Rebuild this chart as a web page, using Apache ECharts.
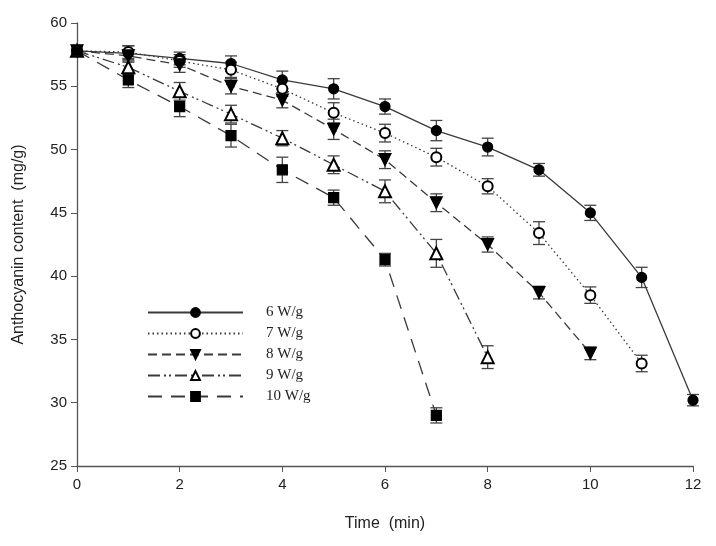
<!DOCTYPE html>
<html>
<head>
<meta charset="utf-8">
<script src="https://cdn.jsdelivr.net/npm/echarts@6/dist/echarts.min.js"></script>
<style>html,body{margin:0;padding:0;background:#fff;}#c{width:716px;height:546px;}</style>
</head>
<body>
<div id="c"></div>
<script>
var seriesNames = ['6 W/g', '7 W/g', '8 W/g', '9 W/g', '10 W/g'];
var time = [0, 1, 2, 3, 4, 5, 6, 7, 8, 9, 10, 11, 12];
var v6 = [57.8, 57.6, 57.2, 56.8, 55.5, 54.8, 53.4, 51.5, 50.2, 48.4, 45.0, 39.9, 30.2];
var e6 = [0, 0.6, 0.5, 0.6, 0.7, 0.8, 0.6, 0.8, 0.7, 0.5, 0.6, 0.8, 0.45];
var v7 = [57.8, 57.7, 57.0, 56.3, 54.8, 52.9, 51.3, 49.4, 47.1, 43.4, 38.5, 33.1];
var e7 = [0, 0.5, 0.5, 0.6, 0.6, 0.8, 0.7, 0.7, 0.6, 0.9, 0.65, 0.65];
var v8 = [57.8, 57.4, 56.7, 55.0, 53.9, 51.6, 49.2, 45.8, 42.5, 38.7, 33.9];
var e8 = [0, 0.5, 0.6, 0.6, 0.6, 0.8, 0.7, 0.7, 0.6, 0.5, 0.5];
var v9 = [57.8, 56.5, 54.6, 52.8, 50.9, 48.8, 46.7, 41.8, 33.6];
var e9 = [0, 0.6, 0.7, 0.7, 0.6, 0.7, 0.9, 1.1, 0.9];
var v10 = [57.8, 55.5, 53.4, 51.1, 48.4, 46.2, 41.3, 29.0];
var e10 = [0, 0.6, 0.8, 0.9, 1.0, 0.6, 0.5, 0.6];
var xTicks = [0, 2, 4, 6, 8, 10, 12];
var yTicks = [25, 30, 35, 40, 45, 50, 55, 60];

var values = [v6, v7, v8, v9, v10];
var errors = [e6, e7, e8, e9, e10];
var symbols = ['circle', 'emptyCircle', 'triangle', 'emptyTriangle', 'rect'];
var rotates = [0, 0, 180, 0, 0];
var sizes = [10, 10, 12, 12, 10];
var dashes = ['solid', [1.5, 3], [9, 5], [12, 4, 2, 3, 2, 4], [14, 9]];

function pairs(v) { return v.map(function (y, i) { return [time[i], y]; }); }

var series = [];
values.forEach(function (v, k) {
  var errData = v.map(function (y, i) { return [time[i], y, errors[k][i]]; });
  series.push({
    type: 'custom',
    name: seriesNames[k] + '_err',
    silent: true,
    z: 1,
    renderItem: function (params, api) {
      var x = api.value(0), y = api.value(1), e = api.value(2);
      if (!e) return null;
      var top = api.coord([x, y + e]);
      var bot = api.coord([x, y - e]);
      var w = 6;
      var st = { stroke: '#444', lineWidth: 1.3 };
      return {
        type: 'group',
        children: [
          { type: 'line', shape: { x1: top[0], y1: top[1], x2: bot[0], y2: bot[1] }, style: st },
          { type: 'line', shape: { x1: top[0] - w, y1: top[1], x2: top[0] + w, y2: top[1] }, style: st },
          { type: 'line', shape: { x1: bot[0] - w, y1: bot[1], x2: bot[0] + w, y2: bot[1] }, style: st }
        ]
      };
    },
    data: errData
  });
  series.push({
    type: 'line',
    name: seriesNames[k],
    z: 3,
    data: pairs(v),
    symbol: symbols[k],
    symbolSize: sizes[k],
    symbolRotate: rotates[k],
    showAllSymbol: true,
    lineStyle: { color: '#3a3a3a', width: 1.3, type: dashes[k] },
    itemStyle: { color: '#000', borderColor: '#000', borderWidth: 1.2 },
    emphasis: { disabled: true },
    animation: false
  });
});

var chart = echarts.init(document.getElementById('c'));
chart.setOption({
  animation: false,
  backgroundColor: '#fff',
  grid: { left: 77, top: 23, right: 23, bottom: 80, containLabel: false },
  legend: {
    data: seriesNames,
    orient: 'vertical',
    left: 142,
    top: 299,
    itemWidth: 95,
    itemHeight: 11,
    itemGap: 4,
    selectedMode: false,
    textStyle: { fontFamily: 'Liberation Serif', fontSize: 15, color: '#222', padding: [0, 0, 0, 18], lineHeight: 17 }
  },
  xAxis: {
    type: 'value',
    min: 0, max: 12, interval: 2,
    name: 'Time  (min)',
    nameLocation: 'middle',
    nameGap: 50,
    nameTextStyle: { fontFamily: 'Liberation Sans', fontSize: 16, color: '#222' },
    axisLine: { lineStyle: { color: '#555', width: 1.3 } },
    axisTick: { show: true, length: 6, inside: false, lineStyle: { color: '#555' } },
    axisLabel: { fontFamily: 'Liberation Sans', fontSize: 15, color: '#222', margin: 11,
      formatter: function (v) { return xTicks.indexOf(v) >= 0 ? String(v) : ''; } },
    splitLine: { show: false }
  },
  yAxis: {
    type: 'value',
    min: 25, max: 60, interval: 5,
    name: 'Anthocyanin content  (mg/g)',
    nameLocation: 'middle',
    nameGap: 50,
    nameRotate: 90,
    nameTextStyle: { fontFamily: 'Liberation Sans', fontSize: 16, color: '#222' },
    axisLine: { show: true, lineStyle: { color: '#555', width: 1.3 } },
    axisTick: { show: true, length: 6, inside: false, lineStyle: { color: '#555' } },
    axisLabel: { fontFamily: 'Liberation Sans', fontSize: 15, color: '#222', margin: 10,
      formatter: function (v) { return yTicks.indexOf(v) >= 0 ? String(v) : ''; } },
    splitLine: { show: false }
  },
  series: series
});
</script>
</body>
</html>
